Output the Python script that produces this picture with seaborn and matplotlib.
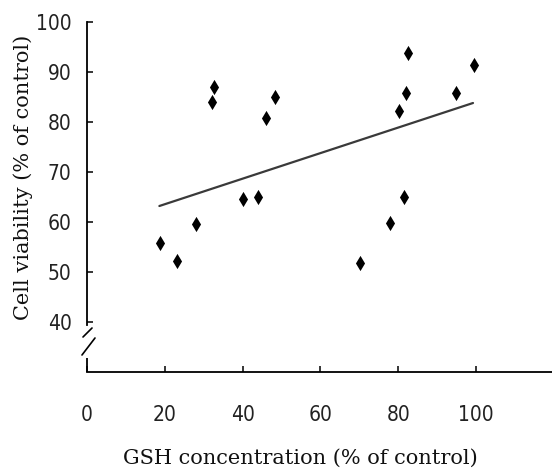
import matplotlib
matplotlib.use("Agg")
import matplotlib.pyplot as plt
import matplotlib.transforms as mtransforms
import numpy as np
import pandas as pd
import seaborn as sns

# GSH concentration vs. cell viability, both as % of control
gsh = [18.8, 23.1, 27.9, 32.0, 32.7, 40.2, 44.0, 45.9, 48.3,
       70.2, 77.9, 80.2, 81.5, 82.0, 82.6, 94.8, 99.5]
viability = [55.8, 52.3, 59.6, 84.1, 87.1, 64.6, 65.1, 80.9, 85.1,
             51.9, 59.8, 82.2, 65.0, 85.9, 93.8, 85.9, 91.5]

# Linear trend line end points
trend_x = [18.6, 99.2]
trend_y = [63.2, 83.8]

x_ticks = [0, 20, 40, 60, 80, 100]
y_ticks = [40, 50, 60, 70, 80, 90, 100]

sns.set_theme(style="ticks")
plt.rcParams["font.family"] = ["DejaVu Sans"]
plt.rcParams["font.stretch"] = "condensed"

df = pd.DataFrame({"gsh": gsh, "viability": viability})
trend = pd.DataFrame({"x": trend_x, "y": trend_y})

fig = plt.figure(figsize=(5.52, 4.72), dpi=100)
ax = fig.add_axes([87 / 552, 1 - 372 / 472, 465 / 552, 350 / 472])

sns.lineplot(data=trend, x="x", y="y", ax=ax, color="#3a3a3a", linewidth=1.6)
sns.scatterplot(data=df, x="gsh", y="viability", ax=ax, marker="d",
                s=60, color="black", linewidth=0)

ax.set_xlim(0, 119.5)
ax.set_ylim(30, 100)
ax.set_xticks(x_ticks)
ax.set_yticks(y_ticks)
ax.set_xticklabels([str(v) for v in x_ticks])
ax.set_yticklabels([str(v) for v in y_ticks])

for side in ("top", "right"):
    ax.spines[side].set_visible(False)
ax.spines["left"].set_bounds(39.4, 100)
for side in ("left", "bottom"):
    ax.spines[side].set_linewidth(1.3)
    ax.spines[side].set_color("black")

ax.tick_params(axis="both", direction="in", length=4, width=1.1,
               color="black", labelsize=15, labelcolor="#222222")
ax.tick_params(axis="x", pad=24)
ax.tick_params(axis="y", pad=11)
for lab in ax.get_xticklabels() + ax.get_yticklabels():
    lab.set_fontstretch("condensed")

# Broken y axis: short lower spine segment and the two break slashes
blend = mtransforms.blended_transform_factory(ax.transAxes, ax.transData)
ax.plot([0, 0], [30, 32.8], transform=blend, color="black", lw=1.3,
        clip_on=False, solid_capstyle="butt")
ax.plot([-0.0086, 0.0108], [37.0, 38.8], transform=blend, color="black",
        lw=1.2, clip_on=False)
ax.plot([-0.0108, 0.0172], [33.4, 36.8], transform=blend, color="black",
        lw=1.2, clip_on=False)

ax.set_xlabel("GSH concentration (% of control)", fontsize=15,
              family=["DejaVu Serif"], fontstretch="normal", color="#111111")
ax.set_ylabel("Cell viability (% of control)", fontsize=15,
              family=["DejaVu Serif"], fontstretch="normal", color="#111111")
ax.xaxis.set_label_coords((300 - 87) / 465, -(449 - 372) / 350)
ax.yaxis.set_label_coords((33 - 87) / 465, (372 - 177) / 350)

fig.savefig("out.png", dpi=100)
